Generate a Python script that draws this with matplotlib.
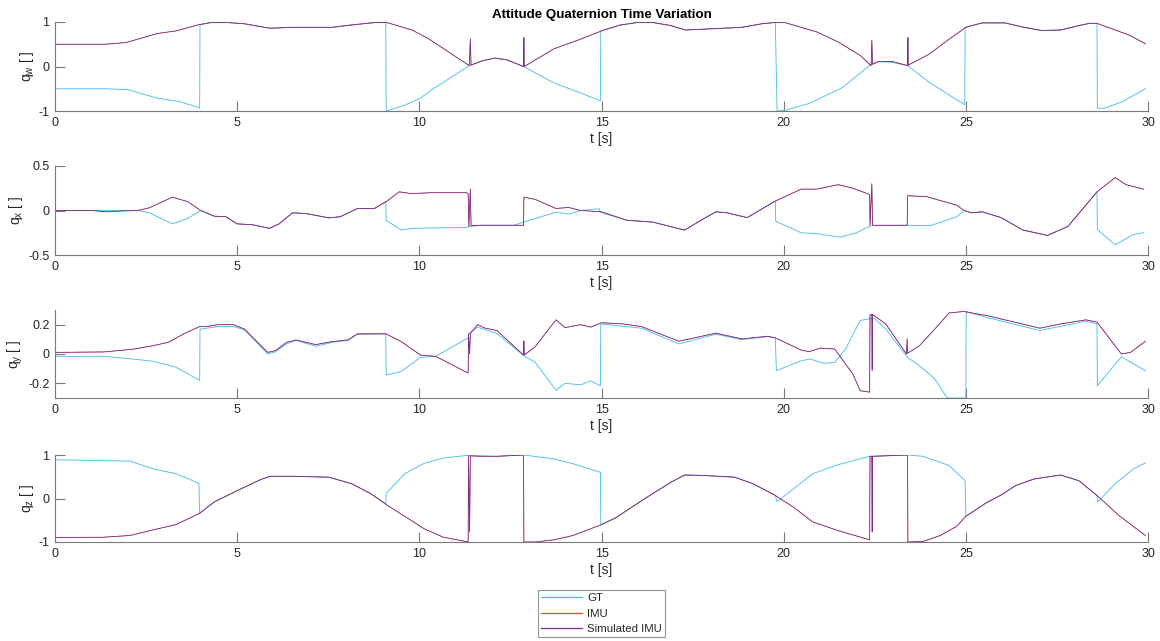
import matplotlib
matplotlib.use("Agg")
import matplotlib.pyplot as plt

plt.rcParams['font.family'] = ['Liberation Sans', 'DejaVu Sans']
plt.rcParams['mathtext.default'] = 'regular'

# ---------------- data (time [s], value) ----------------
sim_w = [(0, 0.5), (1.38, 0.5), (1.96, 0.54), (2.8, 0.74), (3.32, 0.8), (3.95, 0.94), (4.3, 0.99), (4.7, 0.99),
         (5.2, 0.96), (5.9, 0.86), (6.5, 0.88), (7.6, 0.88), (8.1, 0.93), (8.8, 0.99), (9.1, 0.99), (9.8, 0.82),
         (10.24, 0.63), (11.37, 0.02), (11.4, 0.62), (11.42, 0.03), (11.7, 0.12), (12.07, 0.19), (12.4, 0.15),
         (12.86, 0.0), (12.87, 0.65), (12.88, 0.0), (13.7, 0.4), (14.38, 0.6), (15.0, 0.8), (15.5, 0.93),
         (16.0, 0.99), (16.4, 0.99), (16.9, 0.92), (17.3, 0.82), (18.85, 0.88), (19.4, 0.96), (19.77, 0.99),
         (20.02, 0.99), (20.9, 0.78), (21.5, 0.55), (22.1, 0.25), (22.4, 0.02), (22.42, 0.59), (22.44, 0.05),
         (22.6, 0.11), (23.0, 0.11), (23.4, 0.02), (23.41, 0.65), (23.42, 0.03), (24.0, 0.28), (24.5, 0.59),
         (25.0, 0.88), (25.45, 0.98), (26.07, 0.98), (26.6, 0.88), (27.08, 0.81), (27.6, 0.82), (28.1, 0.92),
         (28.4, 0.97), (28.6, 0.97), (29.1, 0.82), (29.5, 0.7), (29.93, 0.51)]
gt_w = [(0, -0.5), (1.38, -0.5), (2.0, -0.52), (2.8, -0.71), (3.43, -0.79), (3.97, -0.93), (3.98, 0.94),
        (4.3, 0.99), (4.7, 0.99), (5.2, 0.96), (5.9, 0.86), (6.5, 0.88), (7.6, 0.88), (8.1, 0.93), (8.8, 0.99),
        (9.08, 0.99), (9.09, -1.0), (9.6, -0.87), (10.03, -0.71), (10.35, -0.52), (11.37, 0.02), (11.7, 0.12),
        (12.07, 0.19), (12.4, 0.15), (12.86, 0.0), (13.7, -0.37), (14.38, -0.58), (14.97, -0.77), (14.98, 0.8),
        (15.5, 0.93), (16.0, 0.99), (16.4, 0.99), (16.9, 0.92), (17.3, 0.82), (18.85, 0.88), (19.4, 0.96),
        (19.77, 0.99), (19.82, -1.0), (20.07, -0.98), (20.7, -0.83), (21.6, -0.48), (22.4, 0.05), (22.6, 0.11),
        (23.0, 0.09), (23.4, 0.02), (24.0, -0.36), (24.97, -0.86), (24.98, 0.88), (25.45, 0.98), (26.07, 0.98),
        (26.6, 0.88), (27.08, 0.81), (27.6, 0.82), (28.1, 0.92), (28.4, 0.97), (28.6, 0.97), (28.61, -0.94),
        (28.8, -0.94), (29.3, -0.79), (29.93, -0.5)]

sim_x = [(0, 0), (1.0, 0), (1.44, -0.015), (1.86, -0.005), (2.27, 0.0), (2.59, 0.03), (3.22, 0.15), (3.64, 0.10),
         (4.0, 0.0), (4.37, -0.064), (4.69, -0.07), (5.0, -0.15), (5.42, -0.16), (5.89, -0.2), (6.15, -0.15),
         (6.52, -0.026), (6.89, -0.034), (7.52, -0.083), (7.83, -0.07), (8.3, 0.023), (8.77, 0.023), (9.09, 0.1),
         (9.45, 0.21), (9.77, 0.19), (10.35, 0.2), (11.29, 0.2), (11.34, 0.19), (11.36, -0.18), (11.4, 0.24),
         (11.42, -0.17), (11.7, -0.166), (12.86, -0.166), (12.87, 0.15), (13.18, 0.125), (13.75, 0.023),
         (14.1, 0.034), (14.43, 0.0), (15.0, -0.015), (15.7, -0.11), (16.4, -0.13), (17.28, -0.22),
         (17.73, -0.11), (18.14, -0.015), (18.45, -0.026), (19.0, -0.08), (19.77, 0.106), (20.48, 0.24),
         (20.9, 0.24), (21.5, 0.29), (21.9, 0.25), (22.36, 0.18), (22.37, -0.166), (22.42, 0.3), (22.44, -0.166),
         (23.39, -0.166), (23.4, 0.166), (23.93, 0.155), (24.75, 0.06), (24.95, 0.0), (25.15, -0.026),
         (25.45, -0.015), (25.97, -0.08), (26.57, -0.22), (27.24, -0.28), (27.8, -0.18), (28.6, 0.21),
         (29.1, 0.37), (29.4, 0.29), (29.88, 0.24)]
gt_x = [(0, 0), (2.27, 0.0), (2.59, -0.026), (3.22, -0.15), (3.64, -0.09), (4.0, 0.0), (4.37, -0.064),
        (4.69, -0.07), (5.0, -0.15), (5.42, -0.16), (5.89, -0.2), (6.15, -0.15), (6.52, -0.026), (6.89, -0.034),
        (7.52, -0.083), (7.83, -0.07), (8.3, 0.023), (8.77, 0.023), (9.08, 0.1), (9.09, -0.11), (9.5, -0.22),
        (9.8, -0.2), (11.3, -0.19), (11.37, -0.18), (11.7, -0.166), (12.6, -0.166), (12.86, -0.13),
        (13.75, -0.02), (14.1, -0.04), (14.43, 0.0), (14.94, 0.02), (14.96, -0.02), (15.7, -0.11),
        (16.4, -0.13), (17.28, -0.22), (17.73, -0.11), (18.14, -0.015), (18.45, -0.026), (19.0, -0.08),
        (19.77, 0.106), (19.78, -0.12), (20.48, -0.25), (20.9, -0.26), (21.55, -0.3), (22.0, -0.25),
        (22.4, -0.17), (23.4, -0.166), (24.03, -0.17), (24.75, -0.07), (24.95, 0.0), (25.15, -0.026),
        (25.45, -0.015), (25.97, -0.08), (26.57, -0.22), (27.24, -0.28), (27.8, -0.18), (28.6, 0.21),
        (28.61, -0.215), (29.1, -0.385), (29.6, -0.27), (29.88, -0.25)]

sim_y = [(0, 0.011), (1.33, 0.014), (2.12, 0.032), (2.7, 0.057), (3.11, 0.08), (3.53, 0.137), (3.97, 0.187),
         (4.16, 0.187), (4.48, 0.2), (4.9, 0.2), (5.2, 0.17), (5.52, 0.09), (5.84, 0.011), (6.05, 0.023),
         (6.36, 0.08), (6.62, 0.096), (7.15, 0.064), (7.62, 0.085), (8.04, 0.096), (8.3, 0.137), (9.09, 0.137),
         (9.5, 0.085), (10.03, -0.007), (10.45, -0.016), (11.34, -0.13), (11.35, 0.137), (11.38, 0.0),
         (11.4, 0.14), (11.6, 0.2), (11.81, 0.176), (12.13, 0.16), (12.86, -0.007), (12.87, 0.09),
         (12.88, -0.007), (13.18, 0.05), (13.75, 0.233), (14.0, 0.18), (14.43, 0.2), (14.7, 0.183),
         (15.0, 0.213), (15.6, 0.205), (16.1, 0.187), (17.12, 0.087), (18.14, 0.142), (18.85, 0.103),
         (19.56, 0.121), (19.77, 0.11), (20.48, 0.027), (20.7, 0.016), (21.0, 0.04), (21.4, 0.034),
         (21.9, -0.137), (22.1, -0.25), (22.36, -0.26), (22.37, 0.267), (22.42, 0.27), (22.43, -0.11),
         (22.44, 0.27), (22.8, 0.205), (23.37, 0.0), (23.39, 0.103), (23.4, 0.005), (23.73, 0.057),
         (24.13, 0.165), (24.54, 0.28), (24.95, 0.29), (25.15, 0.28), (25.56, 0.263), (27.03, 0.176),
         (27.6, 0.205), (28.3, 0.233), (28.6, 0.217), (29.27, 0.0), (29.52, 0.011), (29.93, 0.087)]
gt_y = [(0, -0.016), (1.33, -0.016), (2.12, -0.034), (2.7, -0.05), (3.32, -0.09), (3.97, -0.18), (3.98, 0.17),
        (4.48, 0.187), (4.9, 0.187), (5.2, 0.165), (5.84, 0.0), (6.05, 0.015), (6.36, 0.07), (6.62, 0.092),
        (7.15, 0.053), (7.62, 0.08), (8.04, 0.092), (8.3, 0.135), (9.08, 0.14), (9.09, -0.144), (9.5, -0.12),
        (10.03, -0.023), (10.45, -0.016), (11.34, 0.11), (11.37, 0.142), (11.6, 0.183), (12.13, 0.14),
        (12.86, -0.011), (13.18, -0.057), (13.75, -0.247), (14.0, -0.2), (14.43, -0.21), (14.7, -0.183),
        (14.97, -0.217), (14.98, 0.205), (16.1, 0.176), (17.12, 0.069), (18.14, 0.135), (18.85, 0.098),
        (19.56, 0.118), (19.77, 0.11), (19.8, -0.114), (20.48, -0.046), (20.73, -0.034), (21.1, -0.064),
        (21.4, -0.057), (21.7, 0.034), (22.1, 0.229), (22.36, 0.24), (22.5, 0.24), (22.8, 0.171),
        (23.4, -0.023), (23.73, -0.08), (24.13, -0.165), (24.49, -0.3), (25.0, -0.3), (25.01, 0.29),
        (25.56, 0.25), (27.03, 0.16), (28.3, 0.224), (28.6, 0.205), (28.61, -0.217), (29.27, -0.018),
        (29.93, -0.114)]

sim_z = [(0, -0.9), (1.33, -0.89), (2.06, -0.85), (2.7, -0.72), (3.32, -0.6), (3.97, -0.34), (4.37, -0.08),
         (5.0, 0.18), (5.63, 0.43), (5.9, 0.51), (6.57, 0.51), (7.52, 0.49), (8.14, 0.34), (8.67, 0.11),
         (9.09, -0.14), (9.6, -0.41), (10.14, -0.7), (10.66, -0.89), (11.29, -0.99), (11.34, -0.99),
         (11.35, 0.99), (11.38, -0.77), (11.4, 0.98), (11.7, 0.97), (12.13, 0.97), (12.86, 1.0), (12.87, -1.0),
         (13.18, -1.0), (13.7, -0.95), (14.22, -0.85), (15.0, -0.6), (15.4, -0.44), (15.9, -0.16), (16.4, 0.11),
         (16.92, 0.38), (17.28, 0.54), (17.8, 0.53), (18.65, 0.49), (19.16, 0.34), (19.77, 0.07), (20.27, -0.2),
         (20.8, -0.54), (21.5, -0.74), (22.36, -0.95), (22.37, 0.97), (22.42, 0.97), (22.43, -0.77),
         (22.44, 0.97), (23.4, 1.0), (23.41, -1.0), (23.82, -0.99), (24.3, -0.85), (24.75, -0.64), (25.0, -0.41),
         (25.56, -0.1), (25.97, 0.08), (26.37, 0.3), (26.88, 0.45), (27.6, 0.54), (28.1, 0.41), (28.6, 0.07),
         (29.2, -0.39), (29.93, -0.85)]
gt_z = [(0, 0.89), (1.33, 0.87), (2.06, 0.86), (2.7, 0.68), (3.32, 0.57), (3.95, 0.35), (3.97, -0.34),
        (4.37, -0.08), (5.0, 0.18), (5.63, 0.43), (5.9, 0.51), (6.57, 0.51), (7.52, 0.49), (8.14, 0.34),
        (8.67, 0.11), (9.08, -0.12), (9.09, 0.12), (9.6, 0.57), (10.14, 0.81), (10.66, 0.93), (11.29, 0.99),
        (12.13, 0.97), (12.86, 1.0), (13.7, 0.91), (14.22, 0.8), (14.97, 0.6), (14.98, -0.6), (15.4, -0.44),
        (15.9, -0.16), (16.4, 0.11), (16.92, 0.38), (17.28, 0.54), (17.8, 0.53), (18.65, 0.49), (19.16, 0.34),
        (19.77, 0.07), (19.82, -0.07), (20.27, 0.22), (20.8, 0.57), (21.5, 0.78), (22.36, 0.97), (23.4, 1.0),
        (23.82, 0.97), (24.54, 0.76), (24.98, 0.41), (25.0, -0.41), (25.56, -0.1), (25.97, 0.08), (26.37, 0.3),
        (26.88, 0.45), (27.6, 0.54), (28.1, 0.41), (28.6, 0.07), (28.62, -0.08), (29.1, 0.34), (29.6, 0.68),
        (29.93, 0.82)]

# IMU measurements are indistinguishable from the simulated IMU in the picture
imu_w, imu_x, imu_y, imu_z = sim_w, sim_x, sim_y, sim_z

series_names = ['GT', 'IMU', 'Simulated IMU']
y_labels = [r'q$_w$ [ ]', r'q$_x$ [ ]', r'q$_y$ [ ]', r'q$_z$ [ ]']
y_ticks = [[-1, 0, 1], [-0.5, 0, 0.5], [-0.2, 0, 0.2], [-1, 0, 1]]
y_limits = [(-1, 1), (-0.5, 0.5), (-0.3, 0.3), (-1, 1)]
x_ticks = [0, 5, 10, 15, 20, 25, 30]
title = 'Attitude Quaternion Time Variation'

# ---------------- figure ----------------
W, H = 1160, 641
fig = plt.figure(figsize=(W / 100, H / 100), dpi=100)
colors = ['#4DBEEE', '#D95319', '#7E2F8E']
widths = [0.65, 0.35, 0.6]
axis_col = '#262626'
spine_col = '#7a7a7a'

panels = [(gt_w, imu_w, sim_w), (gt_x, imu_x, sim_x), (gt_y, imu_y, sim_y), (gt_z, imu_z, sim_z)]
tops = [22, 166, 310, 455]
bottoms = [111, 255, 398, 542]
left_px, right_px = 55, 1148

handles = []
for i, (gt, imu, sim) in enumerate(panels):
    ax = fig.add_axes([left_px / W, 1 - bottoms[i] / H, (right_px - left_px) / W, (bottoms[i] - tops[i]) / H])
    for data, c, lw in zip((gt, imu, sim), colors, widths):
        t = [p[0] for p in data]
        v = [p[1] for p in data]
        ln, = ax.plot(t, v, color=c, lw=lw)
        if i == 0:
            handles.append(ln)
    ax.set_xlim(0, 30)
    ax.set_ylim(*y_limits[i])
    ax.set_xticks(x_ticks)
    ax.set_yticks(y_ticks[i])
    ax.set_yticklabels([('%g' % v) for v in y_ticks[i]])
    for s in ['top', 'right']:
        ax.spines[s].set_visible(False)
    for s in ['left', 'bottom']:
        ax.spines[s].set_color(spine_col)
        ax.spines[s].set_linewidth(0.8)
    ax.tick_params(direction='in', length=7.5, width=0.8, color=spine_col, labelsize=9,
                   labelcolor=axis_col, pad=4)
    ax.set_xlabel('t [s]', fontsize=10, color=axis_col, labelpad=2.5)
    ax.set_ylabel(y_labels[i], fontsize=10, color=axis_col, labelpad=2)
    ax.patch.set_alpha(0)
    if i == 0:
        ax.set_title(title, fontsize=9.6, fontweight='bold', color='black', pad=3)

leg = fig.legend(handles, series_names, loc='upper center',
                 bbox_to_anchor=((left_px + right_px) / 2 / W, 1 - 590 / H),
                 fontsize=8.2, frameon=True, fancybox=False, handlelength=3.6, handletextpad=0.45,
                 borderpad=0.3, labelspacing=0.45, borderaxespad=0)
leg.get_frame().set_edgecolor(spine_col)
leg.get_frame().set_linewidth(0.8)
for ln in leg.get_lines():
    ln.set_linewidth(0.9)
for txt in leg.get_texts():
    txt.set_color(axis_col)

fig.savefig('out.png', dpi=100)
